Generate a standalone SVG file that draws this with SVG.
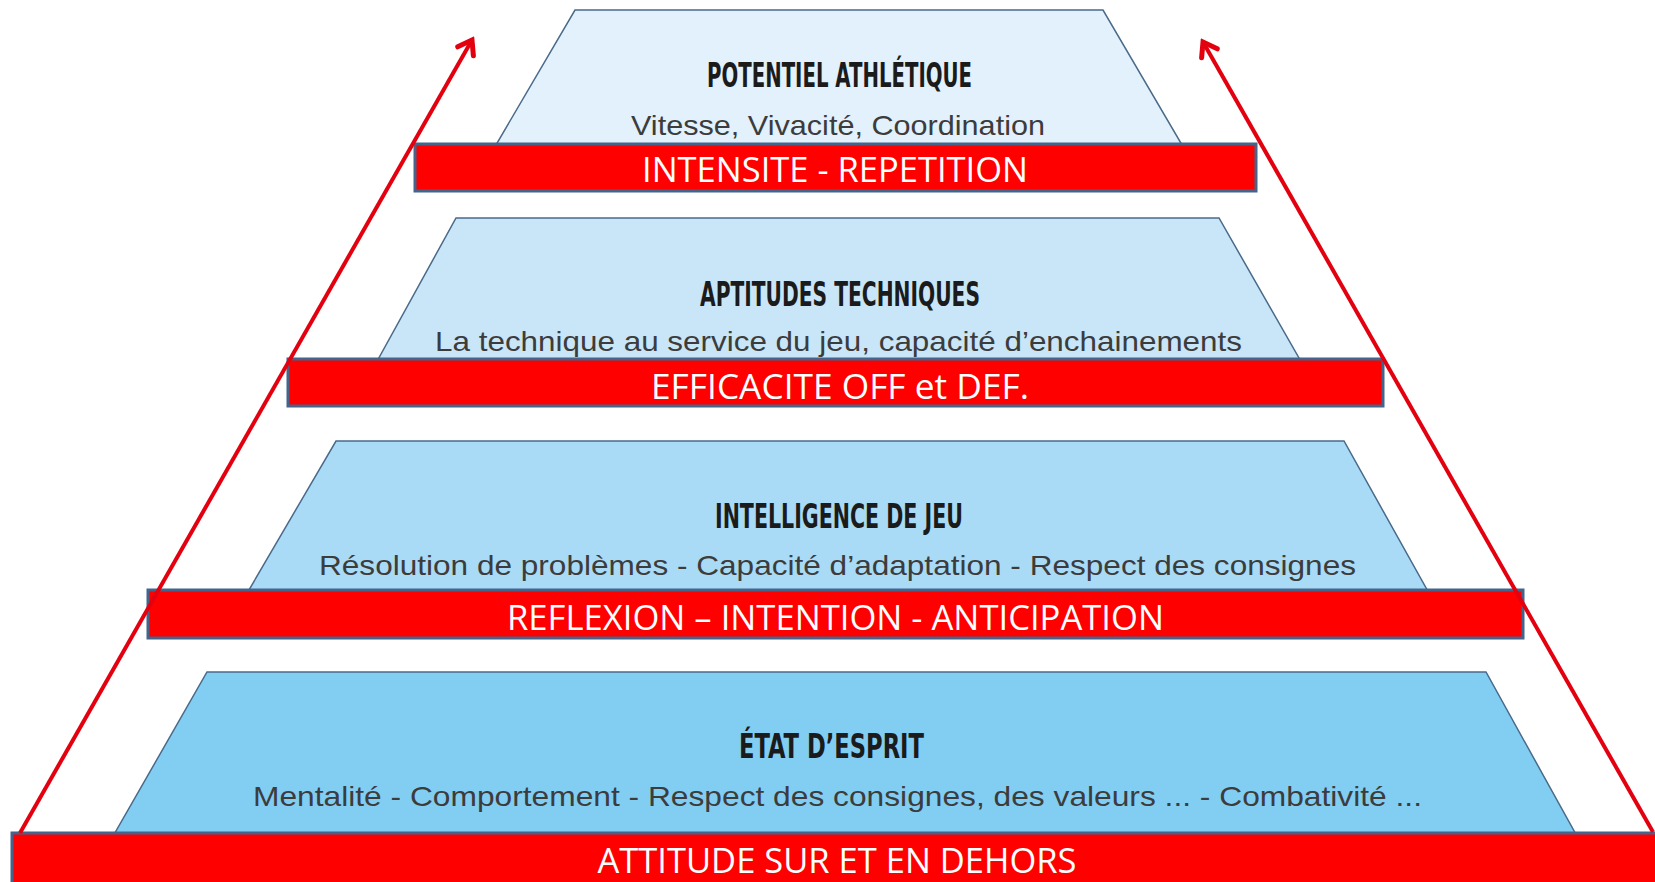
<svg xmlns="http://www.w3.org/2000/svg" width="1655" height="882" viewBox="0 0 1655 882">
<style>
.trap{stroke:#4a6a8a;stroke-width:1.5}
.t1{fill:#e2f1fc}.t2{fill:#c9e6f8}.t3{fill:#a9dbf6}.t4{fill:#82cef3}
.title{font-family:"DejaVu Sans Condensed","DejaVu Sans",sans-serif;font-weight:bold;font-stretch:condensed;font-size:33px;fill:#1b1b1b;text-anchor:middle}
.sub{font-family:"Liberation Sans",Arial,sans-serif;font-size:28px;fill:#3c3c3c;text-anchor:middle}
.bar{fill:#ff0000;stroke:#45648c;stroke-width:3}
.band{font-family:"Open Sans","Liberation Sans",sans-serif;font-size:35px;fill:#ffffff;text-anchor:middle}
.arrow{stroke:#e3000f;stroke-width:4;fill:none}
</style>
<defs>
<marker id="head" markerUnits="userSpaceOnUse" viewBox="-20 -14 24 28" markerWidth="24" markerHeight="28" refX="0" refY="0" orient="auto">
<path d="M-13,-9 L0,0 L-13,9" fill="none" stroke="#e3000f" stroke-width="5" stroke-linecap="round" stroke-linejoin="miter"/>
</marker>
</defs>
<rect width="1655" height="882" fill="#ffffff"/>

<g id="level-potentiel">
<polygon class="trap t1" points="575,10 1103,10 1185,150 493,150"/>
<text class="title" x="839.5" y="87" textLength="265" lengthAdjust="spacingAndGlyphs">POTENTIEL ATHLÉTIQUE</text>
<text class="sub" x="838" y="135" textLength="414" lengthAdjust="spacingAndGlyphs">Vitesse, Vivacité, Coordination</text>
</g>
<g id="level-aptitudes">
<polygon class="trap t2" points="456,218 1219,218 1303,365 375,365"/>
<text class="title" x="840" y="306" textLength="280" lengthAdjust="spacingAndGlyphs">APTITUDES TECHNIQUES</text>
<text class="sub" x="838.5" y="351" textLength="807" lengthAdjust="spacingAndGlyphs">La technique au service du jeu, capacité d’enchainements</text>
</g>
<g id="level-intelligence">
<polygon class="trap t3" points="336,441 1344,441 1430,595 246,595"/>
<text class="title" x="839" y="528" textLength="248" lengthAdjust="spacingAndGlyphs">INTELLIGENCE DE JEU</text>
<text class="sub" x="837.5" y="575" textLength="1037" lengthAdjust="spacingAndGlyphs">Résolution de problèmes - Capacité d’adaptation - Respect des consignes</text>
</g>
<g id="level-etat">
<polygon class="trap t4" points="207,672 1486,672 1578,838 112,838"/>
<text class="title" x="831.5" y="758" textLength="185" lengthAdjust="spacingAndGlyphs">ÉTAT D’ESPRIT</text>
<text class="sub" x="837.5" y="806" textLength="1169" lengthAdjust="spacingAndGlyphs">Mentalité - Comportement - Respect des consignes, des valeurs ... - Combativité ...</text>
</g>

<g id="band-intensite">
<rect class="bar" x="415" y="144" width="841" height="47"/>
<text class="band" x="835" y="182" textLength="386" lengthAdjust="spacingAndGlyphs">INTENSITE - REPETITION</text>
</g>
<g id="band-efficacite">
<rect class="bar" x="288" y="359" width="1095" height="47"/>
<text class="band" x="840" y="399" textLength="378" lengthAdjust="spacingAndGlyphs">EFFICACITE OFF et DEF.</text>
</g>
<g id="band-reflexion">
<rect class="bar" x="148" y="590" width="1375" height="48"/>
<text class="band" x="835.5" y="630" textLength="657" lengthAdjust="spacingAndGlyphs">REFLEXION – INTENTION - ANTICIPATION</text>
</g>
<g id="band-attitude">
<rect class="bar" x="12" y="833" width="1660" height="60"/>
<text class="band" x="837" y="873" textLength="479" lengthAdjust="spacingAndGlyphs">ATTITUDE SUR ET EN DEHORS</text>
</g>

<g id="connectors">
<line class="arrow" x1="20" y1="833" x2="472" y2="40" marker-end="url(#head)"/>
<line class="arrow" x1="1653" y1="832" x2="1203" y2="42" marker-end="url(#head)"/>
</g>
</svg>
